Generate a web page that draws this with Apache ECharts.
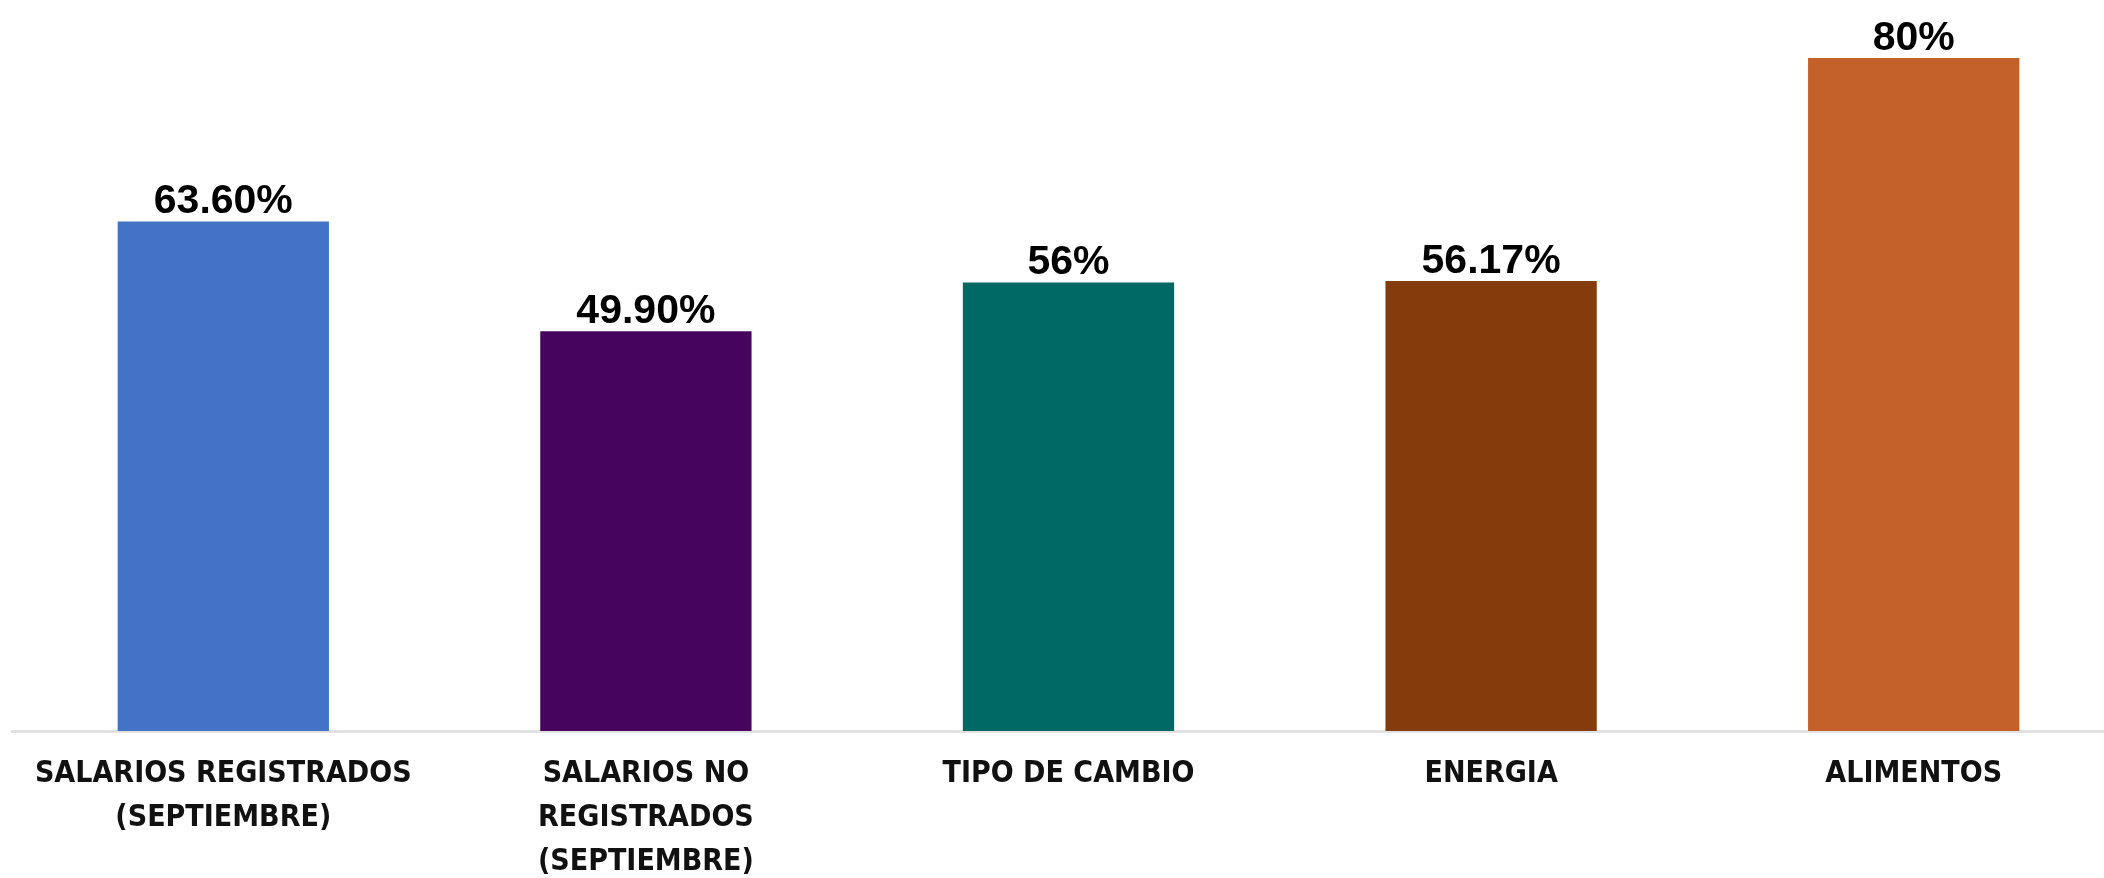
<!DOCTYPE html>
<html>
<head>
<meta charset="utf-8">
<script src="https://cdn.jsdelivr.net/npm/echarts@6/dist/echarts.min.js"></script>
<style>
  html, body { margin: 0; padding: 0; background: #fff; overflow: hidden; }
  #main { width: 2130px; height: 878px; }
</style>
</head>
<body>
<div id="main"></div>
<script>
// categories and values
const categories = [
  'SALARIOS REGISTRADOS\n(SEPTIEMBRE)',
  'SALARIOS NO\nREGISTRADOS\n(SEPTIEMBRE)',
  'TIPO DE CAMBIO',
  'ENERGIA',
  'ALIMENTOS'
];
const values = [63.6, 49.9, 56.0, 56.17, 84.0];
const valueLabels = ['63.60%', '49.90%', '56%', '56.17%', '80%'];
const barColors = ['#4472C4', '#46045E', '#006865', '#843C0C', '#C4602A'];

const chart = echarts.init(document.getElementById('main'), null, { renderer: 'canvas' });

const option = {
  animation: false,
  grid: { left: 12, width: 2113, top: 10, bottom: 147, containLabel: false, outerBoundsMode: 'none' },
  xAxis: {
    type: 'category',
    data: categories,
    axisLine: { show: true, lineStyle: { color: '#e2e2e2', width: 3 } },
    axisTick: { show: false },
    axisLabel: {
      interval: 0,
      margin: 21,
      color: '#111',
      fontFamily: '"Liberation Sans Narrow", "DejaVu Sans Condensed", sans-serif',
      fontWeight: 'bold',
      fontSize: 30,
      lineHeight: 44
    }
  },
  yAxis: {
    type: 'value',
    min: 0,
    max: 90,
    show: false,
    splitLine: { show: false }
  },
  series: [{
    type: 'bar',
    barCategoryGap: '50%',
    data: values.map((v, i) => ({ value: v, itemStyle: { color: barColors[i] } })),
    label: {
      show: true,
      position: 'top',
      distance: 0,
      offset: [0, 1],
      color: '#000',
      fontFamily: '"Liberation Sans", Arial, sans-serif',
      fontWeight: 'bold',
      fontSize: 41,
      formatter: p => valueLabels[p.dataIndex]
    }
  }]
};

chart.setOption(option);
</script>
</body>
</html>
